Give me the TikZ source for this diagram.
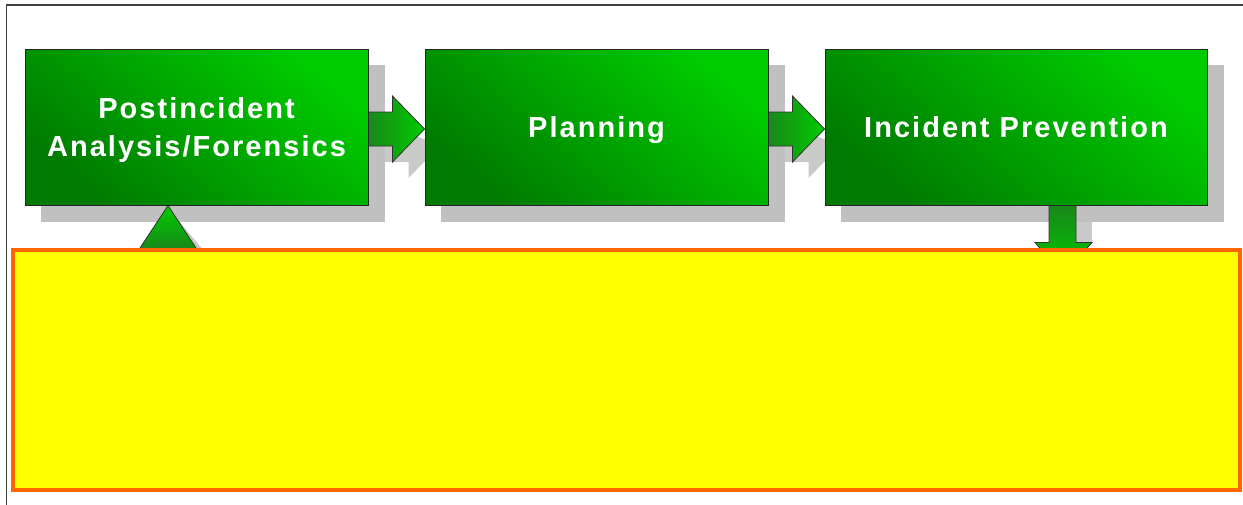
\documentclass[tikz,border=0pt]{standalone}
\usepackage{fontspec}
\setmainfont{Liberation Sans}[LetterSpace=7]
\usetikzlibrary{calc}
\definecolor{greenlight}{HTML}{00CC00}
\definecolor{greendark}{HTML}{007A00}
\definecolor{shadowgray}{HTML}{C0C0C0}
\definecolor{noteorange}{HTML}{FF6600}
\definecolor{noteyellow}{HTML}{FFFF00}
\definecolor{framegray}{HTML}{404040}
\pgfdeclarelayer{shadowlayer}
\pgfdeclarelayer{arrowlayer}
\pgfsetlayers{shadowlayer,arrowlayer,main}
\tikzset{
  stagebox/.style={draw=black!85, line width=1pt, top color=greenlight, bottom color=greendark,
    shading angle=-40, minimum height=156, inner sep=0pt, align=center, text=white,
    text height=20.8pt, text depth=0pt,
    font=\bfseries\fontsize{29}{38}\selectfont},
  boxshadow/.style={fill=shadowgray},
  arrowline/.style={draw=black!80, line width=0.8pt, line join=miter},
  flowarrow/.style={arrowline, left color=greendark!90, right color=greenlight},
  arrowshadow/.style={fill=shadowgray, fill opacity=0.85},
  notebox/.style={draw=noteorange, line width=4.5pt, fill=noteyellow, minimum width=1227, minimum height=240,
    inner sep=0pt},
}
\begin{document}
\begin{tikzpicture}[x=1pt, y=-1pt]
\useasboundingbox (0,0) rectangle (1243,504);
% frame lines
\draw[framegray, line width=1.5pt] (6.5,510) -- (6.5,5) -- (1250,5);

% stage boxes (text centred on the capitals)
\node[stagebox, minimum width=343, text height=58.8pt] (post) at (196.5,127) {Postincident\\Analysis/Forensics};
\node[stagebox, minimum width=343] (plan) at (596.5,127) {Planning};
\node[stagebox, minimum width=382] (prev) at (1016,127) {Incident Prevention};
\node[notebox] (notes) at (626.5,370) {};

% drop shadows of the boxes
\begin{pgfonlayer}{shadowlayer}
  \foreach \b in {post,plan,prev}
    \fill[boxshadow] ([shift={(16,16)}]\b.north west) rectangle ([shift={(16,16)}]\b.south east);
\end{pgfonlayer}

% connectors
\begin{pgfonlayer}{arrowlayer}
  \coordinate (a1) at ([yshift=-2]post.east);
  \coordinate (a1t) at ([yshift=-2]plan.west);
  \coordinate (a2) at ([yshift=-2]plan.east);
  \coordinate (a2t) at ([yshift=-2]prev.west);
  \coordinate (up) at ([xshift=-28.5]post.south);
  \coordinate (dn) at ([xshift=46.5]prev.south);
  % shadows of the connectors
  \foreach \s/\t in {a1/a1t,a2/a2t}
    \fill[arrowshadow] ($(\s)+(16,1)$) -- ($(\s)+(24,1)$) -- ($(\s)+(24,-1)$) -- ($(\t)+(16,16)$)
      -- ($(\s)+(40,49)$) -- ($(\s)+(40,33)$) -- ($(\s)+(16,33)$) -- cycle;
  \fill[arrowshadow] ($(dn)+(13.5,12)$) -- ($(dn)+(29.5,12)$) -- ($(dn)+(29.5,37)$) -- ($(dn)+(13.5,37)$) -- cycle;
  \fill[arrowshadow] ($(up)+(6,10)$) -- ($(up)+(34,43)$) -- ($(up)+(25,43)$) -- cycle;
  % arrows
  \foreach \s/\t in {a1/a1t,a2/a2t}
    \draw[flowarrow] ($(\s)+(0,-17)$) -- ($(\s)+(24,-17)$) -- ($(\s)+(24,-33)$) -- (\t)
      -- ($(\s)+(24,33)$) -- ($(\s)+(24,17)$) -- ($(\s)+(0,17)$);
  \draw[arrowline, top color=greenlight, bottom color=greendark!90]
    (up) -- ($(up)+(-29,44)$) -- ($(up)+(29,44)$) -- cycle;
  \draw[arrowline, top color=greendark!90, bottom color=greenlight]
    ($(dn)+(-13.5,0)$) -- ($(dn)+(-13.5,37)$) -- ($(dn)+(-27.5,37)$) -- ($(dn)+(0,70)$)
    -- ($(dn)+(29.5,37)$) -- ($(dn)+(13.5,37)$) -- ($(dn)+(13.5,0)$);
\end{pgfonlayer}
\end{tikzpicture}
\end{document}
